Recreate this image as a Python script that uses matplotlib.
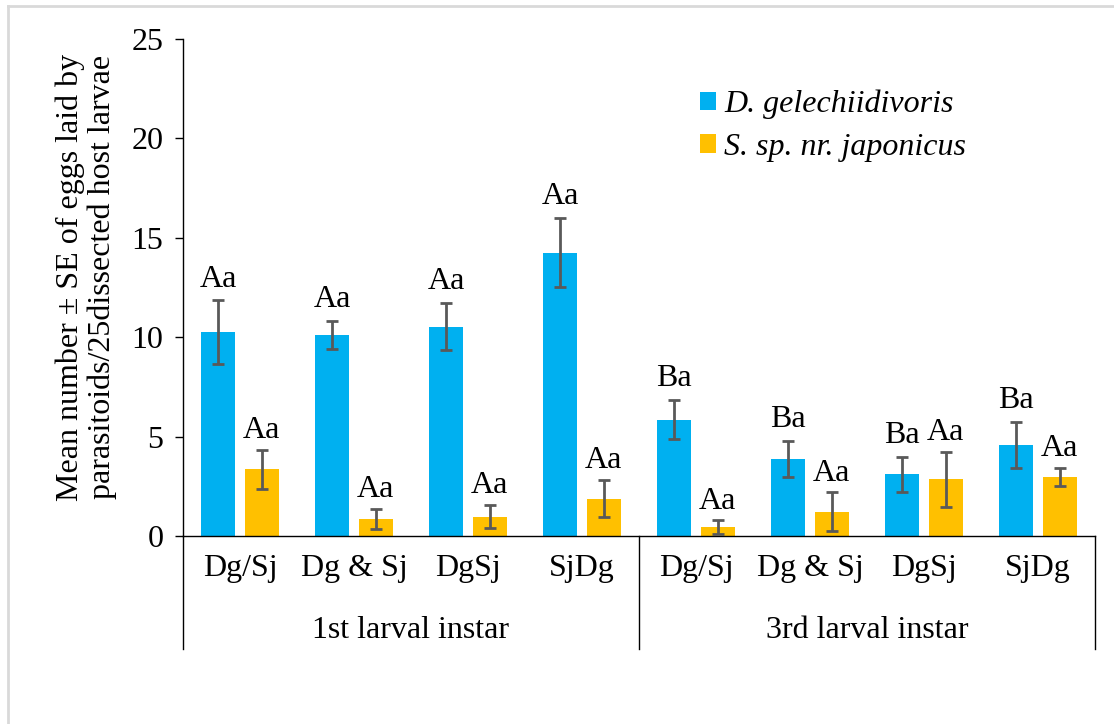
import numpy as np
import matplotlib.pyplot as plt
from matplotlib.lines import Line2D

plt.rcParams['font.family'] = ['Liberation Serif', 'DejaVu Serif']

# values
treatments = ['Dg/Sj', 'Dg & Sj', 'DgSj', 'SjDg']
instars = ['1st larval instar', '3rd larval instar']
species = ['D. gelechiidivoris', 'S. sp. nr. japonicus']

dg_mean = [10.25, 10.12, 10.52, 14.26, 5.86, 3.87, 3.10, 4.57]
dg_se = [1.60, 0.69, 1.18, 1.72, 0.97, 0.90, 0.87, 1.16]
sj_mean = [3.35, 0.84, 0.97, 1.88, 0.45, 1.22, 2.85, 2.96]
sj_se = [0.97, 0.50, 0.58, 0.93, 0.33, 0.97, 1.39, 0.46]

dg_letters = ['Aa', 'Aa', 'Aa', 'Aa', 'Ba', 'Ba', 'Ba', 'Ba']
sj_letters = ['Aa'] * 8

blue = '#00B0F0'
gold = '#FFC000'
err_col = '#595959'
fs = 23

fig = plt.figure(figsize=(11.14, 7.24), dpi=100)
ax = fig.add_axes([183 / 1114, 1 - 536 / 724, (1095 - 183) / 1114, (536 - 39) / 724])

n = len(dg_mean)
x = np.arange(n) + 0.5
w = 0.30
off = 0.19

ax.bar(x - off, dg_mean, w, color=blue, label=species[0], zorder=2)
ax.bar(x + off, sj_mean, w, color=gold, label=species[1], zorder=2)
ax.errorbar(x - off, dg_mean, yerr=dg_se, fmt='none', ecolor=err_col,
            elinewidth=2, capsize=4, capthick=2, zorder=3)
ax.errorbar(x + off, sj_mean, yerr=sj_se, fmt='none', ecolor=err_col,
            elinewidth=2, capsize=4, capthick=2, zorder=3)

for i in range(n):
    ax.text(x[i] - off, dg_mean[i] + dg_se[i] + 0.7, dg_letters[i],
            ha='center', va='baseline', fontsize=fs)
    ax.text(x[i] + off, sj_mean[i] + sj_se[i] + 0.6, sj_letters[i],
            ha='center', va='baseline', fontsize=fs)

ax.set_xlim(0, n)
ax.set_ylim(0, 25)
ax.set_yticks(range(0, 26, 5))
ax.tick_params(axis='y', labelsize=fs, length=6, width=1, pad=8)
ax.set_xticks(x)
ax.set_xticklabels(treatments * 2, fontsize=fs)
ax.tick_params(axis='x', length=0, pad=13)

for s in ['top', 'right']:
    ax.spines[s].set_visible(False)
ax.spines['left'].set_linewidth(1)
ax.spines['bottom'].set_linewidth(1)

# group separators below the axis
low = -(649 - 536) / (536 - 39)
for xv in [0, 4, 8]:
    ax.add_line(Line2D([xv, xv], [0, low], transform=ax.get_xaxis_transform(),
                       color='black', lw=1, clip_on=False))
for k, name in enumerate(instars):
    ax.text(2 + 4 * k, -(630 - 536) / (536 - 39), name, ha='center', va='center',
            fontsize=fs, transform=ax.get_xaxis_transform())

fig.text(86 / 1114, 1 - 277 / 724,
         'Mean number \u00b1 SE of eggs laid by\nparasitoids/25dissected host larvae',
         rotation=90, ha='center', va='center', fontsize=fs, multialignment='center',
         linespacing=1.1)

leg = ax.legend(loc='upper left', bbox_to_anchor=(684 / 1114, 1 - 74 / 724),
                bbox_transform=fig.transFigure, frameon=False, fontsize=fs,
                handlelength=0.5, handleheight=0.5, handletextpad=0.25,
                labelspacing=0.42, borderpad=0)
for t in leg.get_texts():
    t.set_fontstyle('italic')

# light frame round the picture
fig.add_artist(Line2D([8 / 1114, 8 / 1114], [0, 1 - 6 / 724], color='#d9d9d9', lw=2))
fig.add_artist(Line2D([8 / 1114, 1], [1 - 6 / 724, 1 - 6 / 724], color='#d9d9d9', lw=2))

fig.savefig('out.png', dpi=100)
